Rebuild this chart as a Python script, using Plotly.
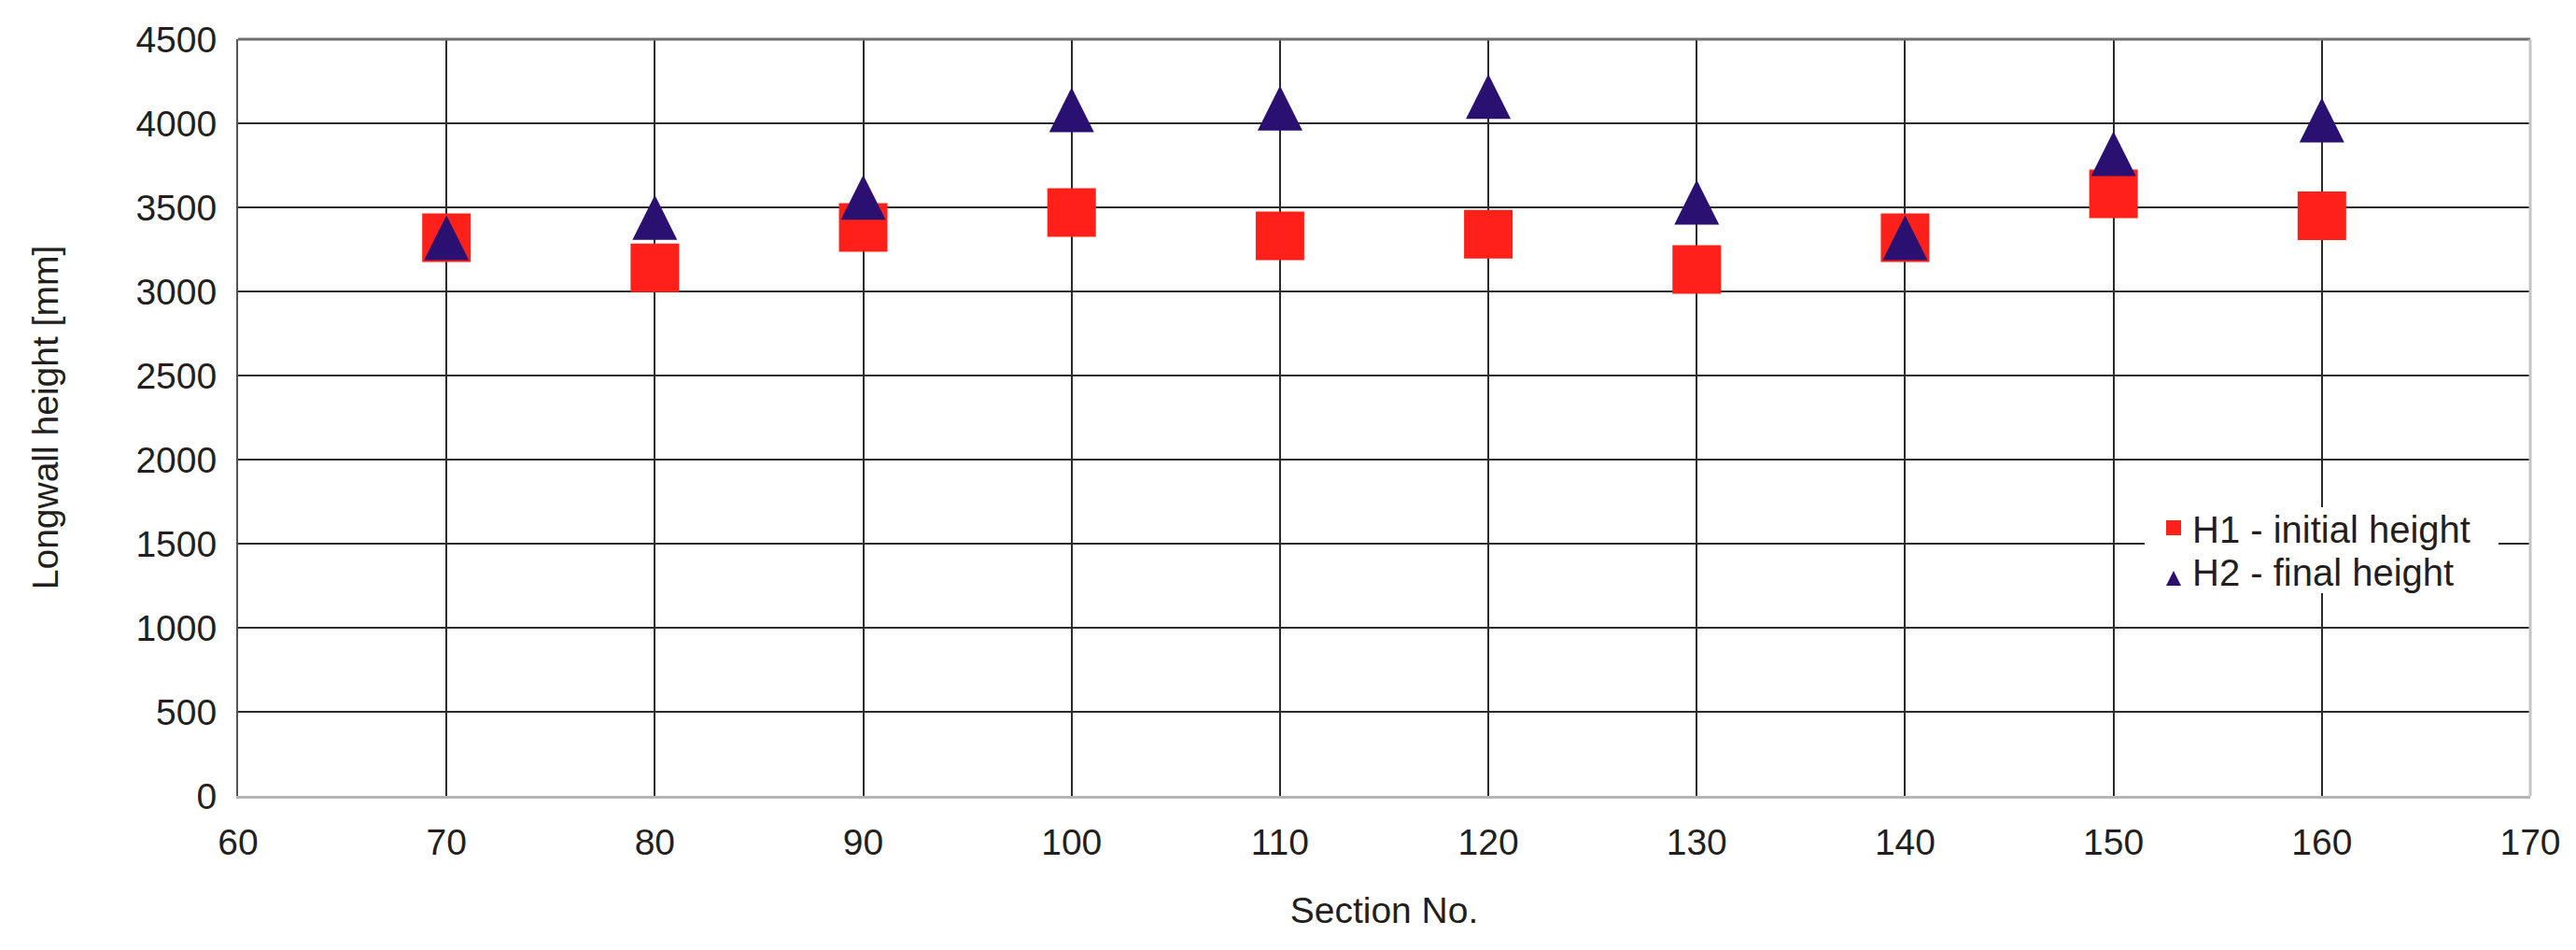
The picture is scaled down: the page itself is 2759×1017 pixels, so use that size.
import plotly.graph_objects as go

# ---- data ----
sections = [70, 80, 90, 100, 110, 120, 130, 140, 150, 160]
h1_initial = [3320, 3140, 3380, 3470, 3330, 3340, 3130, 3320, 3580, 3450]
h2_final = [3320, 3440, 3560, 4080, 4090, 4160, 3530, 3320, 3820, 4020]
x_ticks = list(range(60, 171, 10))
y_ticks = list(range(0, 4501, 500))

PAGE_W, PAGE_H = 2759, 1017
BODY = 8  # default html body margin
W, H = PAGE_W - BODY, PAGE_H - BODY
PLOT_L, PLOT_R, PLOT_T, PLOT_B = 255, 2710, 42, 852   # page px
M_L, M_R, M_T, M_B = PLOT_L - BODY, PAGE_W - PLOT_R, PLOT_T - BODY, PAGE_H - PLOT_B
plot_h = H - M_T - M_B
plot_w = W - M_L - M_R
Y_MAX = 4500
TRI_SIZE = 48
# arrow-up marker has its tip at the data point; shift its axis so the marker is centred
tri_shift = (TRI_SIZE / 2) * Y_MAX / plot_h

RED = "#FF2119"
NAVY = "#2A1070"
FONT = "Liberation Sans, Arial, sans-serif"
TXT = "#231F20"


def px_x(page_x):
    return (page_x - PLOT_L) / plot_w


def px_y(page_y):
    return (PLOT_B - page_y) / plot_h


fig = go.Figure()
fig.add_trace(go.Scatter(
    x=sections, y=h1_initial, mode="markers", name="H1 - initial height",
    legend="legend",
    marker=dict(symbol="square", size=52, color=RED, line=dict(width=0)),
))
fig.add_trace(go.Scatter(
    x=sections, y=h2_final, mode="markers", name="H2 - final height",
    yaxis="y2", legend="legend2",
    marker=dict(symbol="arrow-up", size=TRI_SIZE, color=NAVY, line=dict(width=0)),
))

leg_common = dict(xanchor="left", yanchor="middle", bgcolor="rgba(0,0,0,0)", borderwidth=0,
                  font=dict(family=FONT, size=40, color=TXT))

shapes = [
    # white background behind the legend entries
    dict(type="rect", xref="paper", yref="paper", layer="above",
         x0=px_x(2297), x1=px_x(2676), y0=px_y(635), y1=px_y(543),
         fillcolor="white", line=dict(width=0)),
    # frame: grey top, light right
    dict(type="line", xref="paper", yref="paper", layer="above",
         x0=0, x1=1, y0=1, y1=1, line=dict(color="#6f6f6f", width=3)),
    dict(type="line", xref="paper", yref="paper", layer="above",
         x0=1, x1=1, y0=0, y1=1, line=dict(color="#c4c4c4", width=3)),
]

fig.update_layout(
    width=W, height=H,
    margin=dict(l=M_L, r=M_R, t=M_T, b=M_B, autoexpand=False),
    paper_bgcolor="white", plot_bgcolor="white",
    font=dict(family=FONT, size=39, color=TXT),
    showlegend=True,
    legend=dict(x=px_x(2308), y=px_y(565), **leg_common),
    legend2=dict(x=px_x(2308), y=px_y(611), **leg_common),
    shapes=shapes,
    xaxis=dict(
        range=[60, 170], tickvals=x_ticks, ticktext=[str(v) for v in x_ticks],
        showgrid=True, gridcolor="#2b2b2b", gridwidth=2,
        showline=True, linecolor="#b5b5b5", linewidth=3,
        zeroline=False, ticks="", ticklabelstandoff=13, automargin=False,
        tickfont=dict(size=39),
        title=dict(text="Section No.", font=dict(size=39), standoff=39),
    ),
    yaxis=dict(
        range=[0, Y_MAX], tickvals=y_ticks, ticktext=[str(v) for v in y_ticks],
        showgrid=True, gridcolor="#2b2b2b", gridwidth=2,
        showline=True, linecolor="#555555", linewidth=2,
        zeroline=False, ticks="", ticklabelstandoff=13, automargin=False,
        tickfont=dict(size=39),
        title=dict(text="Longwall height [mm]", font=dict(size=39), standoff=71),
    ),
    yaxis2=dict(
        range=[-tri_shift, Y_MAX - tri_shift], overlaying="y", visible=False,
        showgrid=False, zeroline=False, automargin=False,
    ),
)

fig.write_html("out.html")
